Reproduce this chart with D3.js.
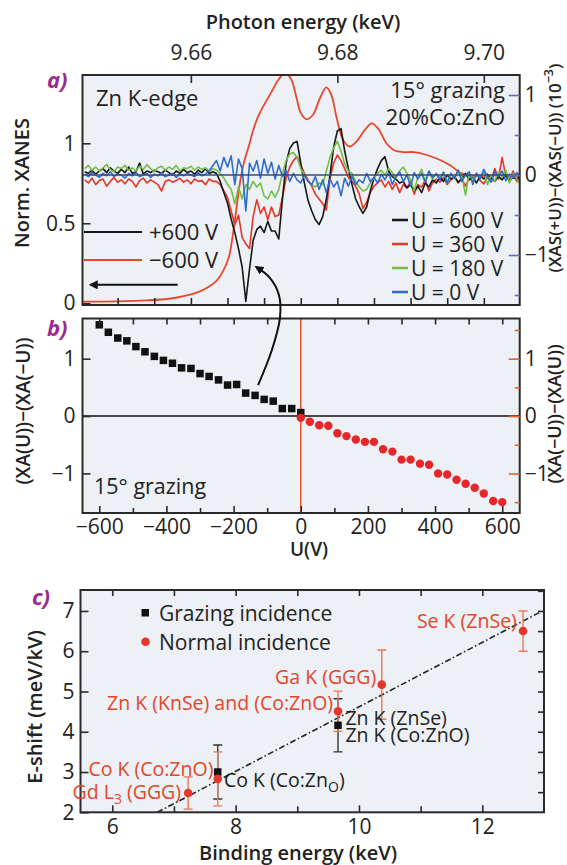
<!DOCTYPE html>
<html>
<head>
<meta charset="utf-8">
<script src="https://cdn.jsdelivr.net/npm/d3@7"></script>
<style>
  body { margin: 0; background: #fff; }
  svg { display: block; font-family: "Open Sans", sans-serif; }
</style>
</head>
<body>
<div id="chart"></div>
<script>
// ---- panel a: XANES difference spectra (energies in eV, values in 1e-3) ----
const energyEV = [
  9645.5,9646,9646.5,9647,9647.5,9648,9648.5,9649,9649.5,9650,
  9650.5,9651,9651.5,9652,9652.5,9653,9653.5,9654,9654.5,9655,
  9655.5,9656,9656.5,9657,9657.5,9658,9658.5,9659,9659.5,9660,
  9660.5,9661,9661.5,9662,9662.5,9663,9663.5,9664,9664.5,9665,
  9665.5,9666,9666.5,9667,9667.5,9668,9668.5,9669,9669.5,9670,
  9670.5,9671,9671.5,9672,9672.5,9673,9673.5,9674,9674.5,9675,
  9675.5,9676,9676.5,9677,9677.5,9678,9678.5,9679,9679.5,9680,
  9680.5,9681,9681.5,9682,9682.5,9683,9683.5,9684,9684.5,9685,
  9685.5,9686,9686.5,9687,9687.5,9688,9688.5,9689,9689.5,9690,
  9690.5,9691,9691.5,9692,9692.5,9693,9693.5,9694,9694.5,9695,
  9695.5,9696,9696.5,9697,9697.5,9698,9698.5,9699,9699.5,9700,
  9700.5,9701,9701.5,9702,9702.5,9703,9703.5,9704,9704.5,9705
];

const diff600 = [
  0.04,0.02,0.06,0.01,0.05,0.08,0.03,0.09,0.05,0.02,
  0.07,0.03,0.10,0.02,0.04,0.15,0.01,0.05,0.03,0.06,
  0.04,0.02,0.06,0.03,0.00,0.05,0.02,0.07,0.03,0.05,
  0.01,0.06,0.03,0.08,0.02,0.04,0.02,-0.08,-0.22,-0.35,
  -0.55,-0.72,-0.92,-1.15,-1.58,-1.18,-0.82,-0.68,-0.64,-0.72,
  -0.58,-0.70,-0.70,-0.80,-0.30,0.15,0.33,0.40,0.42,0.15,
  -0.10,-0.32,-0.45,-0.56,-0.62,-0.52,-0.30,0.00,0.35,0.55,
  0.58,0.30,0.08,-0.12,-0.30,-0.40,-0.48,-0.40,-0.20,-0.04,
  0.08,0.18,0.23,0.05,-0.02,-0.05,-0.10,-0.08,-0.16,-0.12,
  -0.20,-0.14,-0.22,-0.10,-0.15,-0.06,-0.10,-0.03,-0.08,0.00,
  -0.05,-0.02,-0.09,-0.04,0.02,-0.06,-0.03,-0.10,-0.01,-0.05,
  0.01,-0.04,-0.08,-0.02,-0.06,0.00,-0.07,-0.03,-0.05,-0.02
];

const diff360 = [
  -0.06,-0.10,-0.04,-0.12,-0.07,-0.05,-0.14,-0.08,-0.03,-0.09,
  -0.06,-0.11,-0.05,-0.08,-0.15,-0.07,-0.04,-0.10,-0.06,-0.09,
  -0.12,-0.20,-0.08,-0.06,-0.09,-0.07,-0.04,-0.09,-0.06,-0.11,
  -0.05,-0.08,-0.07,-0.12,-0.05,-0.08,-0.08,-0.12,-0.20,-0.28,
  -0.45,-0.62,-0.50,-0.78,-0.86,-0.92,-0.52,-0.31,-0.48,-0.40,
  -0.56,-0.40,-0.52,-0.50,-0.28,-0.04,0.10,0.18,0.23,0.12,
  0.02,-0.06,-0.14,-0.24,-0.30,-0.36,-0.44,-0.04,0.15,0.25,
  0.18,0.08,-0.03,-0.08,-0.14,-0.24,-0.42,-0.34,-0.22,-0.14,
  -0.10,-0.06,-0.15,-0.08,-0.18,-0.10,-0.22,-0.12,-0.16,-0.08,
  -0.24,-0.12,-0.15,-0.06,-0.20,-0.10,-0.05,-0.09,-0.03,-0.12,
  -0.06,-0.02,-0.10,-0.05,-0.14,-0.04,-0.08,0.02,-0.07,-0.11,
  -0.03,-0.06,0.08,-0.05,0.22,-0.02,-0.06,0.05,-0.08,-0.04
];

const diff180 = [
  0.08,0.12,0.06,0.10,0.05,0.09,0.13,0.07,0.04,0.10,
  0.08,0.12,0.06,0.09,0.05,0.11,0.07,0.13,0.08,0.04,
  0.09,0.11,0.06,0.10,0.07,0.12,0.05,0.09,0.08,0.11,
  0.06,0.10,0.07,0.09,0.05,0.08,0.06,0.02,-0.04,-0.12,
  -0.18,-0.36,-0.15,-0.30,-0.12,-0.18,-0.08,-0.15,-0.10,-0.26,
  -0.30,-0.20,-0.28,-0.18,0.02,0.18,0.26,0.28,0.22,0.08,
  0.00,-0.08,-0.12,-0.15,-0.10,-0.12,0.05,0.22,0.34,0.42,
  0.30,0.14,0.05,0.02,-0.08,-0.15,-0.20,-0.18,-0.10,-0.04,
  0.02,0.06,0.00,0.08,0.03,-0.04,0.05,0.10,0.02,-0.06,
  -0.20,-0.02,0.07,-0.08,0.03,-0.05,0.02,-0.03,0.04,-0.10,
  0.02,-0.05,0.06,-0.02,-0.25,0.03,-0.06,0.01,-0.04,0.05,
  -0.12,0.00,-0.08,0.04,-0.03,0.06,-0.10,0.02,-0.05,-0.12
];

const diff0 = [
  0.01,-0.02,0.03,0.00,-0.03,0.02,-0.01,0.04,-0.02,0.01,
  0.00,-0.04,0.02,-0.01,0.03,-0.02,0.00,0.02,-0.03,0.01,
  -0.01,0.03,-0.02,0.00,0.02,-0.03,0.01,-0.01,0.02,0.00,
  -0.02,0.03,-0.01,0.01,0.05,0.12,0.18,0.05,0.22,0.10,
  0.24,-0.12,0.20,0.08,-0.45,0.15,0.05,0.18,-0.04,0.20,
  0.02,0.16,-0.05,0.12,-0.02,0.06,-0.08,0.02,-0.06,-0.10,
  0.00,-0.08,-0.12,-0.02,-0.18,-0.06,-0.22,-0.05,-0.15,-0.08,
  -0.26,-0.04,-0.14,-0.02,-0.12,-0.06,-0.10,0.02,-0.08,-0.03,
  -0.10,0.01,-0.06,0.03,-0.12,-0.02,0.04,-0.08,0.00,-0.14,
  0.03,-0.05,0.02,-0.09,0.05,-0.03,0.01,-0.06,0.03,-0.10,
  0.02,-0.04,0.06,-0.08,0.00,0.04,-0.12,0.02,-0.05,0.07,
  -0.03,-0.09,0.04,-0.02,0.05,-0.07,0.01,-0.04,0.03,-0.02
];

// normalised XANES, -600 V (left axis)
const xanesE = [9645.3,9650,9654,9657,9659,9661,9662.5,9663.5,9664.5,9665.2,
  9665.8,9666.3,9666.8,9667.3,9667.9,9668.5,9669.2,9670,9671,9672,
  9672.9,9673.7,9674.4,9675,9675.8,9676.7,9677.6,9678.5,9679.2,9679.9,
  9680.8,9681.7,9682.6,9683.7,9684.7,9685.6,9686.7,9687.8,9689,9690.5,
  9692,9693.8,9695.5,9696.8,9698,9700,9702,9704.9];
const xanesY = [0.01,0.012,0.018,0.028,0.045,0.07,0.105,0.14,0.21,0.29,
  0.45,0.62,0.78,0.89,0.98,1.08,1.17,1.24,1.32,1.40,
  1.44,1.40,1.29,1.19,1.15,1.18,1.28,1.35,1.30,1.16,
  1.02,0.98,1.01,1.08,1.125,1.09,1.00,0.955,0.945,0.945,
  0.93,0.90,0.86,0.815,0.80,0.795,0.80,0.79];

const diffSeries = [
  { name: "U = 600 V", values: diff600, color: "#161616" },
  { name: "U = 360 V", values: diff360, color: "#e5362b" },
  { name: "U = 180 V", values: diff180, color: "#72bf44" },
  { name: "U = 0 V",   values: diff0,   color: "#2f6bd0" }
];

// ---- panel b: XA asymmetry vs bias ----
const negU = [-600,-573,-545,-518,-491,-464,-436,-409,-382,-355,-327,-300,
  -273,-245,-218,-191,-164,-136,-109,-82,-55,-27,0];
const negVal = [1.59,1.46,1.36,1.31,1.21,1.12,1.04,0.97,0.92,0.84,0.83,0.74,
  0.69,0.63,0.54,0.55,0.40,0.36,0.29,0.26,0.13,0.13,0.06];
const posU = [0,27,55,82,109,136,164,191,218,245,273,300,
  327,355,382,409,436,464,491,518,545,573,600];
const posVal = [-0.03,-0.10,-0.16,-0.17,-0.30,-0.35,-0.41,-0.45,-0.45,-0.58,-0.62,-0.76,
  -0.76,-0.83,-0.85,-1.00,-1.02,-1.11,-1.18,-1.25,-1.35,-1.48,-1.50];

// ---- panel c: energy shift vs binding energy ----
const grazingX = [7.71, 9.66];
const grazingY = [3.00, 4.16];
const grazingErr = [0.67, 0.66];
const normalX = [7.23, 7.71, 9.66, 10.37, 12.66];
const normalY = [2.48, 2.83, 4.51, 5.17, 6.50];
const normalErr = [0.40, 0.67, 0.50, 0.86, 0.50];
const fitX = [6.73, 12.95];
const fitY = [2.0, 6.98];

// ---------------------------------------------------------------
const W = 567, H = 865;
const PURPLE = "#9c2b8c", RED = "#e5362b", FRAME = "#2a2a2a", BG = "#edf0f4";

const svg = d3.select("#chart").append("svg")
  .attr("width", W).attr("height", H);

const defs = svg.append("defs");
defs.append("marker").attr("id", "head")
  .attr("viewBox", "0 0 10 10").attr("refX", 8).attr("refY", 5)
  .attr("markerWidth", 9).attr("markerHeight", 9)
  .attr("markerUnits", "userSpaceOnUse")
  .attr("orient", "auto")
  .append("path").attr("d", "M0,0 L10,5 L0,10 z").attr("fill", "#111");

// panel boxes
const boxA = { x0: 82.5, x1: 519.7, y0: 75, y1: 305 };
const boxB = { x0: 82.5, x1: 519.7, y0: 318.5, y1: 513 };
const boxC = { x0: 80.5, x1: 544, y0: 590, y1: 812.3 };

function background(box, id) {
  svg.append("rect").attr("x", box.x0).attr("y", box.y0)
    .attr("width", box.x1 - box.x0).attr("height", box.y1 - box.y0)
    .attr("fill", BG);
  defs.append("clipPath").attr("id", id).append("rect")
    .attr("x", box.x0).attr("y", box.y0)
    .attr("width", box.x1 - box.x0).attr("height", box.y1 - box.y0);
}
function frame(box) {
  svg.append("rect").attr("x", box.x0).attr("y", box.y0)
    .attr("width", box.x1 - box.x0).attr("height", box.y1 - box.y0)
    .attr("fill", "none").attr("stroke", FRAME).attr("stroke-width", 2);
}
function drawAxis(gen, tx, ty, color) {
  const g = svg.append("g").attr("transform", `translate(${tx},${ty})`).call(gen);
  g.select(".domain").remove();
  g.attr("font-family", null).attr("font-size", 21);
  g.selectAll(".tick line").attr("stroke", color || FRAME).attr("stroke-width", 1.6);
  g.selectAll(".tick text").attr("fill", "#222");
  return g;
}
function label(txt, x, y, opts = {}) {
  const t = svg.append("text").attr("x", x).attr("y", y)
    .attr("font-size", opts.size || 21)
    .attr("fill", opts.color || "#222")
    .attr("text-anchor", opts.anchor || "start")
    .attr("font-weight", opts.weight || 400)
    .text(txt);
  if (opts.italic) t.attr("font-style", "italic");
  return t;
}
function vlabel(txt, x, y, size) {
  return svg.append("text")
    .attr("transform", `translate(${x},${y}) rotate(-90)`)
    .attr("text-anchor", "middle").attr("dominant-baseline", "central")
    .attr("font-size", size || 20).attr("font-weight", 600).attr("fill", "#222")
    .text(txt);
}

// ================= panel a =================
const xA = d3.scaleLinear().domain([9645.2, 9704.9]).range([boxA.x0, boxA.x1]);
const yA = d3.scaleLinear().domain([-0.011, 1.427]).range([boxA.y1, boxA.y0]);
const yAR = d3.scaleLinear().domain([-1.625, 1.25]).range([boxA.y1, boxA.y0]);

background(boxA, "clipA");
const gA = svg.append("g").attr("clip-path", "url(#clipA)");

gA.append("path")
  .attr("d", d3.line().curve(d3.curveCatmullRom)
    .x((d, i) => xA(xanesE[i])).y(d => yA(d))(xanesY))
  .attr("fill", "none").attr("stroke", "#e8472d").attr("stroke-width", 1.8);

const diffLine = d3.line().x((d, i) => xA(energyEV[i])).y(d => yAR(d));
[diffSeries[1], diffSeries[0], diffSeries[2], diffSeries[3]].forEach(s => {
  gA.append("path").attr("d", diffLine(s.values))
    .attr("fill", "none").attr("stroke", s.color)
    .attr("stroke-width", 1.6).attr("stroke-linejoin", "round");
});
gA.append("line")
  .attr("x1", boxA.x0).attr("x2", boxA.x1)
  .attr("y1", yAR(0)).attr("y2", yAR(0))
  .attr("stroke", "#3b4a7a").attr("stroke-width", 1.3);

frame(boxA);
drawAxis(d3.axisTop(xA).tickValues([9660, 9680, 9700]).tickSize(-8).tickPadding(15)
  .tickFormat(d => (d / 1000).toFixed(2)), 0, boxA.y0);
drawAxis(d3.axisBottom(xA).tickValues([9650, 9655, 9660, 9665, 9670, 9675, 9680, 9685, 9690, 9695, 9700])
  .tickSize(-7).tickFormat(""), 0, boxA.y1);
drawAxis(d3.axisLeft(yA).tickValues([0, 0.5, 1]).tickSize(-8).tickPadding(7)
  .tickFormat(d => d === 0.5 ? "0.5" : d), boxA.x0, 0);
drawAxis(d3.axisRight(yAR).tickValues([-1, 0, 1]).tickSize(-11).tickPadding(5)
  .tickFormat(d3.format("d")), boxA.x1, 0, "#5b6fc8");
drawAxis(d3.axisRight(yAR).tickValues([-1.5, -0.5, 0.5]).tickSize(-5)
  .tickFormat(""), boxA.x1, 0, "#5b6fc8");

label("Photon energy (keV)", 303, 29, { anchor: "middle", weight: 600, size: 20 });
vlabel("Norm. XANES", 21, 183);
svg.append("text")
  .attr("transform", "translate(554,168) rotate(-90)")
  .attr("text-anchor", "middle").attr("dominant-baseline", "central")
  .attr("font-size", 17).attr("font-weight", 600).attr("fill", "#222")
  .call(t => {
    t.append("tspan").text("(XAS(+U))\u2212(XAS(\u2212U)) (10");
    t.append("tspan").attr("dy", -6).attr("font-size", 12.5).text("\u22123");
    t.append("tspan").attr("dy", 6).text(")");
  });
label("a)", 47, 88, { color: PURPLE, weight: 700, italic: true, size: 22 });
label("Zn K-edge", 96, 106, { size: 22 });
label("15\u00b0 grazing", 505, 98, { anchor: "end", size: 22 });
label("20%Co:ZnO", 505, 125, { anchor: "end", size: 22 });

// left legend (+/-600 V XANES)
[["+600 V", "#161616", 232], ["\u2212600 V", "#e8472d", 260]].forEach(([t, c, y]) => {
  svg.append("line").attr("x1", 84).attr("x2", 142).attr("y1", y).attr("y2", y)
    .attr("stroke", c).attr("stroke-width", 2);
  label(t, 149, y + 8, { size: 22 });
});
// arrow pointing to left axis
const edgeArrow = [[9658.2, 0.115], [9646.3, 0.115]];
svg.append("line")
  .attr("x1", xA(edgeArrow[0][0])).attr("y1", yA(edgeArrow[0][1]))
  .attr("x2", xA(edgeArrow[1][0])).attr("y2", yA(edgeArrow[1][1]))
  .attr("stroke", "#111").attr("stroke-width", 2).attr("marker-end", "url(#head)");

// right legend
const legYA = [220, 244, 268, 292];
diffSeries.forEach((s, i) => {
  svg.append("line").attr("x1", 392).attr("x2", 408)
    .attr("y1", legYA[i]).attr("y2", legYA[i])
    .attr("stroke", s.color).attr("stroke-width", 2.5);
  label(s.name, 411, legYA[i] + 7.5, { size: 21 });
});

// ================= panel b =================
const xB = d3.scaleLinear().domain([-650, 652]).range([boxB.x0, boxB.x1]);
const yB = d3.scaleLinear().domain([-1.69, 1.70]).range([boxB.y1, boxB.y0]);

background(boxB, "clipB");
const gB = svg.append("g").attr("clip-path", "url(#clipB)");
gB.append("line").attr("x1", boxB.x0).attr("x2", boxB.x1)
  .attr("y1", yB(0)).attr("y2", yB(0)).attr("stroke", "#111").attr("stroke-width", 1.6);
gB.append("line").attr("x1", xB(0)).attr("x2", xB(0))
  .attr("y1", boxB.y0).attr("y2", boxB.y1).attr("stroke", "#e8562e").attr("stroke-width", 1.6);

const sq = 7.5;
gB.selectAll(".neg").data(negU).join("rect")
  .attr("x", d => xB(d) - sq / 2).attr("y", (d, i) => yB(negVal[i]) - sq / 2)
  .attr("width", sq).attr("height", sq).attr("fill", "#111");
gB.selectAll(".pos").data(posU).join("circle")
  .attr("cx", d => xB(d)).attr("cy", (d, i) => yB(posVal[i]))
  .attr("r", 4.2).attr("fill", "#e8262a");

frame(boxB);
drawAxis(d3.axisBottom(xB).tickValues([-600, -400, -200, 0, 200, 400, 600])
  .tickSize(-7).tickPadding(6).tickFormat(d3.format("d")), 0, boxB.y1);
drawAxis(d3.axisBottom(xB).tickValues([-500, -300, -100, 100, 300, 500])
  .tickSize(-5).tickFormat(""), 0, boxB.y1);
drawAxis(d3.axisTop(xB).tickValues([-600, -500, -400, -300, -200, -100, 100, 200, 300, 400, 500, 600])
  .tickSize(-6).tickFormat(""), 0, boxB.y0);
drawAxis(d3.axisLeft(yB).tickValues([-1, 0, 1]).tickSize(-8).tickPadding(7)
  .tickFormat(d3.format("d")), boxB.x0, 0);
drawAxis(d3.axisRight(yB).tickValues([-1, 0, 1]).tickSize(-11).tickPadding(5)
  .tickFormat(d3.format("d")), boxB.x1, 0, "#e8602c");
drawAxis(d3.axisRight(yB).tickValues([-1.5, -0.5, 0.5, 1.5]).tickSize(-5)
  .tickFormat(""), boxB.x1, 0, "#e8602c");

label("b)", 47, 336, { color: PURPLE, weight: 700, italic: true, size: 22 });
label("15\u00b0 grazing", 94, 494, { size: 21.5 });
vlabel("(XA(U))\u2212(XA(\u2212U))", 23, 411, 19);
vlabel("(XA(\u2212U))\u2212(XA(U))", 554, 414, 18);
label("U(V)", 309, 556, { anchor: "middle", weight: 600, size: 19 });

// curved arrow from panel b into panel a (in panel-b data units)
const curveArrow = [[-127, 0.54], [-86, 1.15], [-62, 1.71], [-65, 2.11], [-92, 2.41], [-133, 2.60]];
svg.append("path")
  .attr("d", d3.line().curve(d3.curveCatmullRom).x(d => xB(d[0])).y(d => yB(d[1]))(curveArrow))
  .attr("fill", "none").attr("stroke", "#111").attr("stroke-width", 2)
  .attr("marker-end", "url(#head)");

// ================= panel c =================
const xC = d3.scaleLinear().domain([5.485, 13.0]).range([boxC.x0, boxC.x1]);
const yC = d3.scaleLinear().domain([2, 7.52]).range([boxC.y1, boxC.y0]);

background(boxC, "clipC");
const gC = svg.append("g").attr("clip-path", "url(#clipC)");

gC.append("path")
  .attr("d", d3.line().x((d, i) => xC(fitX[i])).y(d => yC(d))(fitY))
  .attr("fill", "none").attr("stroke", "#222").attr("stroke-width", 1.6)
  .attr("stroke-dasharray", "6,2.5,1.5,2.5");

function errBars(xs, ys, es, color) {
  xs.forEach((x, i) => {
    const cx = xC(x), top = yC(ys[i] + es[i]), bot = yC(ys[i] - es[i]);
    const g = gC.append("g").attr("stroke", color).attr("stroke-width", 1.4);
    g.append("line").attr("x1", cx).attr("x2", cx).attr("y1", top).attr("y2", bot);
    g.append("line").attr("x1", cx - 4.5).attr("x2", cx + 4.5).attr("y1", top).attr("y2", top);
    g.append("line").attr("x1", cx - 4.5).attr("x2", cx + 4.5).attr("y1", bot).attr("y2", bot);
  });
}
errBars(grazingX, grazingY, grazingErr, "#333");
errBars(normalX, normalY, normalErr, "#e87a55");

gC.selectAll(".gr").data(grazingX).join("rect")
  .attr("x", d => xC(d) - sq / 2).attr("y", (d, i) => yC(grazingY[i]) - sq / 2)
  .attr("width", sq).attr("height", sq).attr("fill", "#111");
gC.selectAll(".nr").data(normalX).join("circle")
  .attr("cx", d => xC(d)).attr("cy", (d, i) => yC(normalY[i]))
  .attr("r", 4.3).attr("fill", RED);

frame(boxC);
drawAxis(d3.axisBottom(xC).tickValues([6, 8, 10, 12]).tickSize(-7).tickPadding(7)
  .tickFormat(d3.format("d")), 0, boxC.y1);
drawAxis(d3.axisBottom(xC).tickValues([7, 9, 11]).tickSize(-6).tickFormat(""), 0, boxC.y1);
drawAxis(d3.axisTop(xC).tickValues([6, 7, 8, 9, 10, 11, 12]).tickSize(-6).tickFormat(""), 0, boxC.y0);
drawAxis(d3.axisLeft(yC).tickValues([2, 3, 4, 5, 6, 7]).tickSize(-8).tickPadding(6)
  .tickFormat(d3.format("d")), boxC.x0, 0);
drawAxis(d3.axisRight(yC).tickValues([2.5, 3, 3.5, 4, 4.5, 5, 5.5, 6, 6.5, 7, 7.5])
  .tickSize(-6).tickFormat(""), boxC.x1, 0);

label("c)", 32, 605, { color: PURPLE, weight: 700, italic: true, size: 22 });
vlabel("E-shift (meV/kV)", 34, 707);
label("Binding energy (keV)", 298, 860, { anchor: "middle", weight: 600, size: 20 });

// legend
svg.append("rect").attr("x", boxC.x0 + 61).attr("y", 609).attr("width", sq).attr("height", sq).attr("fill", "#111");
label("Grazing incidence", boxC.x0 + 78.5, 621, { size: 21 });
svg.append("circle").attr("cx", boxC.x0 + 65).attr("cy", 641.7).attr("r", 4.3).attr("fill", RED);
label("Normal incidence", boxC.x0 + 78.5, 650, { size: 21 });

// point annotations (data coordinates)
const cNotes = [
  { t: "Se K (ZnSe)", x: 12.56, y: 6.58, a: "end", c: "#e0472b" },
  { t: "Ga K (GGG)", x: 10.28, y: 5.19, a: "end", c: "#e0472b" },
  { t: "Zn K (KnSe) and (Co:ZnO)", x: 9.58, y: 4.54, a: "end", c: "#e0472b" },
  { t: "Co K (Co:ZnO)", x: 7.64, y: 2.90, a: "end", c: "#e0472b" },
  { t: "Zn K (ZnSe)", x: 9.78, y: 4.17, a: "start", c: "#222" },
  { t: "Zn K (Co:ZnO)", x: 9.78, y: 3.74, a: "start", c: "#222" }
];
cNotes.forEach(n => label(n.t, xC(n.x), yC(n.y), { anchor: n.a, color: n.c, size: 19.5 }));

// labels with subscripts
svg.append("text").attr("x", xC(7.115)).attr("y", yC(2.33))
  .attr("text-anchor", "end").attr("font-size", 19.5).attr("fill", "#e0472b")
  .call(t => {
    t.append("tspan").text("Gd L");
    t.append("tspan").attr("dy", 5).attr("font-size", 14).text("3");
    t.append("tspan").attr("dy", -5).text(" (GGG)");
  });
svg.append("text").attr("x", xC(7.81)).attr("y", yC(2.63))
  .attr("font-size", 19.5).attr("fill", "#222")
  .call(t => {
    t.append("tspan").text("Co K (Co:Zn");
    t.append("tspan").attr("dy", 5).attr("font-size", 14).text("O");
    t.append("tspan").attr("dy", -5).text(")");
  });
</script>
</body>
</html>
